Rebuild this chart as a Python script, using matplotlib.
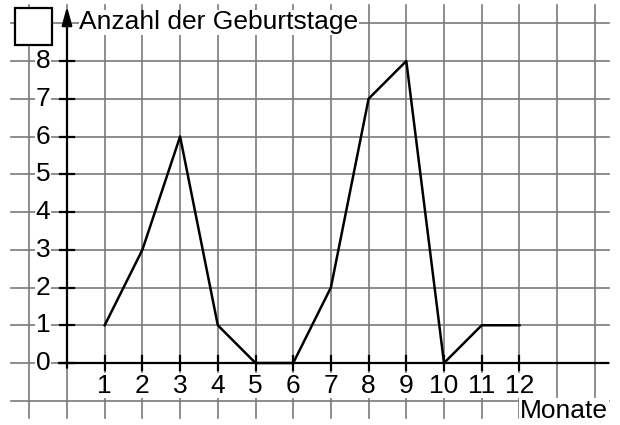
import matplotlib
matplotlib.use('Agg')
import matplotlib.pyplot as plt
from matplotlib.patches import Rectangle

# Anzahl der Geburtstage pro Monat
monate = [1, 2, 3, 4, 5, 6, 7, 8, 9, 10, 11, 12]
anzahl = [1, 3, 6, 1, 0, 0, 2, 7, 8, 0, 1, 1]
y_ticks = [0, 1, 2, 3, 4, 5, 6, 7, 8]

plt.rcParams['font.family'] = ['Liberation Sans', 'DejaVu Sans']
fs = 19

fig = plt.figure(figsize=(6.2, 4.25), dpi=100)
ax = fig.add_axes([0, 0, 1, 1])
ax.set_xlim(-1.777, 14.668)
ax.set_ylim(-1.642, 9.616)
ax.axis('off')

grid_col = '#7a7a7a'
# grid
for gx in range(-1, 15):
    ax.plot([gx, gx], [-1.46, 9.48], color=grid_col, lw=1.2, zorder=1)
for gy in range(-1, 10):
    ax.plot([-1.49, 14.38], [gy, gy], color=grid_col, lw=1.2, zorder=1)

# axes
ax.plot([-0.2, 14.35], [0, 0], color='black', lw=1.6, zorder=3)
ax.annotate('', xy=(0, 9.52), xytext=(0, -0.2),
            arrowprops=dict(arrowstyle='-|>,head_length=0.8,head_width=0.22',
                            color='black', lw=1.6, mutation_scale=14), zorder=3)

for m in monate:
    ax.plot([m, m], [-0.18, 0.18], color='black', lw=1.6, zorder=3)
    ax.text(m, -0.6, str(m), ha='center', va='center', fontsize=fs, zorder=4,
            bbox=dict(facecolor='white', edgecolor='none', pad=0.3))
for t in y_ticks:
    ax.plot([-0.18, 0.18], [t, t], color='black', lw=1.6, zorder=3)
    ax.text(-0.64, t, str(t), ha='center', va='center', fontsize=fs, zorder=4,
            bbox=dict(facecolor='white', edgecolor='none', pad=0.3))

# data line
ax.plot(monate, anzahl, color='black', lw=1.8, zorder=5)

# labels
ax.text(0.33, 9.03, 'Anzahl der Geburtstage', ha='left', va='center', fontsize=fs,
        zorder=4, bbox=dict(facecolor='white', edgecolor='none', pad=0.3))
ax.text(14.35, -1.27, 'Monate', ha='right', va='center', fontsize=fs, zorder=4,
        bbox=dict(facecolor='white', edgecolor='none', pad=0.3))

# empty answer box
ax.add_patch(Rectangle((-1.38, 8.42), 0.98, 0.98, facecolor='white',
                       edgecolor='black', lw=1.6, zorder=6))

plt.savefig('out.png', dpi=100)
